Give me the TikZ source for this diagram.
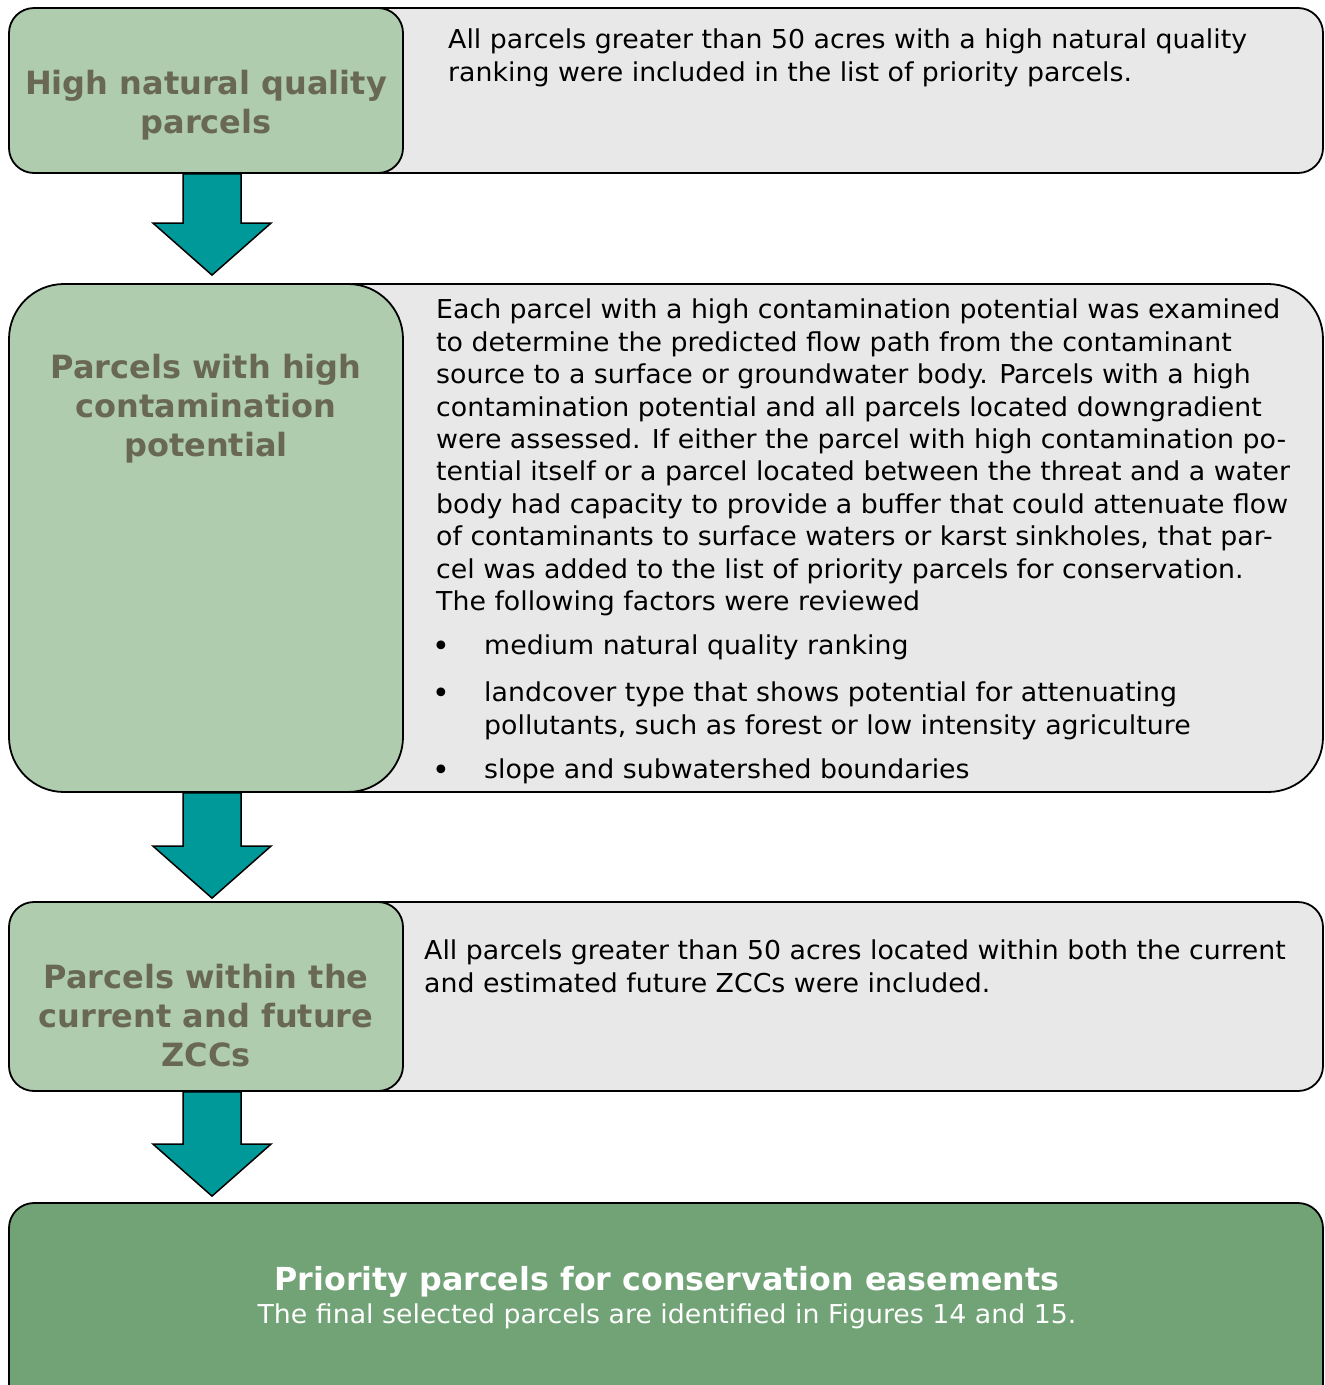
\documentclass[tikz,border=0pt]{standalone}
\usepackage{fontspec}
\setmainfont{DejaVu Sans}
\newfontfamily\bodyfont[FakeStretch=1.03]{DejaVu Sans}
\usetikzlibrary{calc}

\definecolor{stagegreen}{RGB}{175,204,175}
\definecolor{stageolive}{RGB}{104,104,84}
\definecolor{arrowteal}{RGB}{0,153,153}
\definecolor{panelgray}{RGB}{232,232,232}
\definecolor{finalgreen}{RGB}{114,163,118}

\tikzset{
  panel/.style={draw=black, line width=1.8pt, fill=panelgray, inner sep=0pt},
  stagebox/.style={draw=black, line width=1.8pt, fill=stagegreen, inner sep=0pt},
  finalbox/.style={draw=black, line width=1.8pt, fill=finalgreen, inner sep=0pt, rounded corners=25pt},
  stagelabel/.style={inner sep=0pt, anchor=base, text=stageolive, font=\fontsize{32}{39}\selectfont\bfseries},
  bodytext/.style={inner sep=0pt, anchor=north west, align=left, font=\bodyfont\fontsize{26}{32.4}\selectfont},
  bulletmark/.style={inner sep=0pt, anchor=base, font=\fontsize{30}{32.4}\selectfont},
  bigarrow/.style={draw=black, line width=1.5pt, fill=arrowteal, line join=miter},
}

% block arrow from the bottom of one stage to the top of the next;
% #3 is the gap left between the tip and the next box
\newcommand\stagearrow[3]{%
  \path ([xshift=6pt]#1.south) coordinate (#1-aT);
  \path ([yshift=#3]#1-aT |- #2.north) coordinate (#1-aB);
  \draw[bigarrow] ($(#1-aT)+(-29,0)$) -- ($(#1-aT)+(29,0)$) -- ($(#1-aB)+(29,-52)$)
     -- ($(#1-aB)+(59,-52)$) -- (#1-aB) -- ($(#1-aB)+(-59,-52)$)
     -- ($(#1-aB)+(-29,-52)$) -- cycle;
}

\begin{document}
\begin{tikzpicture}[x=1pt, y=-1pt]
\useasboundingbox (0,0) rectangle (1325,1385);

% description panels behind the stage boxes
\node[panel, rounded corners=25pt, minimum width=1023, minimum height=165] (t1) at (811.5,90.5) {};
\node[panel, rounded corners=55pt, minimum width=1023, minimum height=508] (t2) at (811.5,538) {};
\node[panel, rounded corners=25pt, minimum width=1023, minimum height=189] (t3) at (811.5,996.5) {};

% stage boxes
\node[stagebox, rounded corners=25pt, minimum width=394, minimum height=165] (g1) at (206,90.5) {};
\node[stagebox, rounded corners=55pt, minimum width=394, minimum height=508] (g2) at (206,538) {};
\node[stagebox, rounded corners=25pt, minimum width=394, minimum height=189] (g3) at (206,996.5) {};

% final result box
\node[finalbox, minimum width=1314, minimum height=240] (fin) at (666,1323) {};

% connecting arrows
\stagearrow{g1}{g2}{8pt}
\stagearrow{g2}{g3}{3pt}
\stagearrow{g3}{fin}{6pt}

% stage titles
\node[stagelabel] (g1a) at (206,94) {High natural quality};
\node[stagelabel] (g1b) at (206,133) {parcels};
\node[stagelabel] (g2a) at (206,378) {Parcels with high};
\node[stagelabel] (g2b) at (206,417) {contamination};
\node[stagelabel] (g2c) at (206,456) {potential};
\node[stagelabel] (g3a) at (206,988) {Parcels within the};
\node[stagelabel] (g3b) at (206,1027) {current and future};
\node[stagelabel] (g3c) at (206,1066) {ZCCs};

% descriptions
\node[bodytext] (d1) at (448,29) {All parcels greater than 50 acres with a high natural quality\\
ranking were included in the list of priority parcels.};

\node[bodytext] (d2) at (436,299) {Each parcel with a high contamination potential was examined\\
to determine the predicted flow path from the contaminant\\
source to a surface or groundwater body. Parcels with a high\\
contamination potential and all parcels located downgradient\\
were assessed. If either the parcel with high contamination po-\\
tential itself or a parcel located between the threat and a water\\
body had capacity to provide a buffer that could attenuate flow\\
of contaminants to surface waters or karst sinkholes, that par-\\
cel was added to the list of priority parcels for conservation.\\
The following factors were reviewed};

\node[bulletmark] (b1) at (441,656) {•};
\node[bodytext] (i1) at (484,635) {medium natural quality ranking};
\node[bulletmark] (b2) at (441,703) {•};
\node[bodytext] (i2) at (484,682) {landcover type that shows potential for attenuating\\
pollutants, such as forest or low intensity agriculture};
\node[bulletmark] (b3) at (441,780) {•};
\node[bodytext] (i3) at (484,759) {slope and subwatershed boundaries};

\node[bodytext] (d3) at (424,940) {All parcels greater than 50 acres located within both the current\\
and estimated future ZCCs were included.};

% final result text
\node[inner sep=0pt, anchor=base, text=white, font=\fontsize{31.7}{36}\selectfont\bfseries] (fa) at (667,1290) {Priority parcels for conservation easements};
\node[inner sep=0pt, anchor=base, text=white, font=\bodyfont\fontsize{26}{32}\selectfont] (fb) at (667,1323) {The final selected parcels are identified in Figures 14 and 15.};
\end{tikzpicture}
\end{document}
